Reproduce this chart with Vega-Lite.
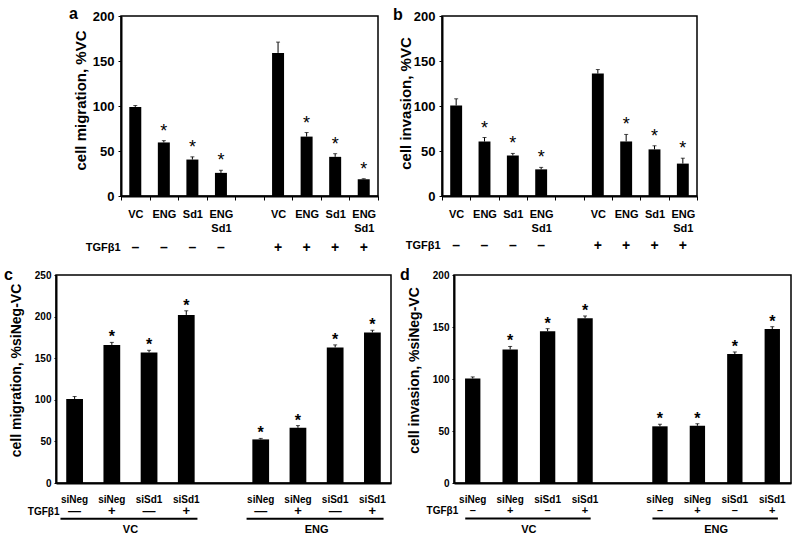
{
  "$schema": "https://vega.github.io/schema/vega-lite/v6.json",
  "padding": {"left": 3, "top": 4, "right": 10, "bottom": 80},
  "background": "white",
  "datasets": {
    "a": [
      {"id": "VC|-", "value": 99, "upper": 100.5, "star": "", "tgf": "–"},
      {"id": "ENG|-", "value": 59.5, "upper": 61.5, "star": "*", "tgf": "–"},
      {"id": "Sd1|-", "value": 40.5, "upper": 43.5, "star": "*", "tgf": "–"},
      {"id": "ENG Sd1|-", "value": 25.7, "upper": 28.6, "star": "*", "tgf": "–"},
      {"id": "VC|+", "value": 159, "upper": 171, "star": "", "tgf": "+"},
      {"id": "ENG|+", "value": 66, "upper": 70.5, "star": "*", "tgf": "+"},
      {"id": "Sd1|+", "value": 43.5, "upper": 47, "star": "*", "tgf": "+"},
      {"id": "ENG Sd1|+", "value": 18.6, "upper": 19.2, "star": "*", "tgf": "+"}
    ],
    "b": [
      {"id": "VC|-", "value": 100.5, "upper": 108, "star": "", "tgf": "–"},
      {"id": "ENG|-", "value": 60.5, "upper": 65, "star": "*", "tgf": "–"},
      {"id": "Sd1|-", "value": 45, "upper": 47.3, "star": "*", "tgf": "–"},
      {"id": "ENG Sd1|-", "value": 29.6, "upper": 31.8, "star": "*", "tgf": "–"},
      {"id": "VC|+", "value": 136, "upper": 140.5, "star": "", "tgf": "+"},
      {"id": "ENG|+", "value": 60.6, "upper": 68.4, "star": "*", "tgf": "+"},
      {"id": "Sd1|+", "value": 51.8, "upper": 55.8, "star": "*", "tgf": "+"},
      {"id": "ENG Sd1|+", "value": 36, "upper": 42, "star": "*", "tgf": "+"}
    ],
    "c": [
      {"id": "siNeg|-|VC", "value": 101, "upper": 104, "star": "", "tgf": "—", "grp": "", "ulEnd": "siSd1|+|VC"},
      {"id": "siNeg|+|VC", "value": 166, "upper": 169, "star": "*", "tgf": "+", "grp": "", "ulEnd": null},
      {"id": "siSd1|-|VC", "value": 157, "upper": 159.5, "star": "*", "tgf": "—", "grp": "VC", "ulEnd": null},
      {"id": "siSd1|+|VC", "value": 202, "upper": 207, "star": "*", "tgf": "+", "grp": "", "ulEnd": null},
      {"id": "siNeg|-|ENG", "value": 52.4, "upper": 53.6, "star": "*", "tgf": "—", "grp": "", "ulEnd": "siSd1|+|ENG"},
      {"id": "siNeg|+|ENG", "value": 66.4, "upper": 69, "star": "*", "tgf": "+", "grp": "", "ulEnd": null},
      {"id": "siSd1|-|ENG", "value": 163, "upper": 166, "star": "*", "tgf": "—", "grp": "ENG", "ulEnd": null},
      {"id": "siSd1|+|ENG", "value": 181, "upper": 183.6, "star": "*", "tgf": "+", "grp": "", "ulEnd": null}
    ],
    "d": [
      {"id": "siNeg|-|VC", "value": 100.5, "upper": 102, "star": "", "tgf": "–", "grp": "", "ulEnd": "siSd1|+|VC"},
      {"id": "siNeg|+|VC", "value": 128.4, "upper": 131.3, "star": "*", "tgf": "+", "grp": "", "ulEnd": null},
      {"id": "siSd1|-|VC", "value": 146, "upper": 148.4, "star": "*", "tgf": "–", "grp": "VC", "ulEnd": null},
      {"id": "siSd1|+|VC", "value": 158.5, "upper": 160.6, "star": "*", "tgf": "+", "grp": "", "ulEnd": null},
      {"id": "siNeg|-|ENG", "value": 54.5, "upper": 56.5, "star": "*", "tgf": "–", "grp": "", "ulEnd": "siSd1|+|ENG"},
      {"id": "siNeg|+|ENG", "value": 55, "upper": 57, "star": "*", "tgf": "+", "grp": "", "ulEnd": null},
      {"id": "siSd1|-|ENG", "value": 124, "upper": 126, "star": "*", "tgf": "–", "grp": "ENG", "ulEnd": null},
      {"id": "siSd1|+|ENG", "value": 148, "upper": 150.3, "star": "*", "tgf": "+", "grp": "", "ulEnd": null}
    ]
  },
  "spacing": 10,
  "vconcat": [
    {
      "bounds": "flush",
      "spacing": 64,
      "hconcat": [
        {"width": 1, "height": 1, "view": {"stroke": null}, "data": {"values": [{}]}, "mark": {"type": "text"}, "encoding": {}},
        {
          "width": 257, "height": 180,
          "title": {"text": "a", "anchor": "start", "frame": "group", "dx": -52, "dy": 24.5, "offset": 0, "fontSize": 16, "fontWeight": "bold", "baseline": "alphabetic"},
          "data": {"name": "a"},
          "encoding": {
            "x": {"field": "id", "type": "nominal", "sort": null,
              "scale": {"domain": ["VC|-", "ENG|-", "Sd1|-", "ENG Sd1|-", "|gap", "VC|+", "ENG|+", "Sd1|+", "ENG Sd1|+"], "paddingInner": 0, "paddingOuter": 0},
              "axis": {"title": "TGFβ1", "titleX": -1, "titleY": 51.7, "titleAlign": "right", "titleBaseline": "middle", "titleFontSize": 11, "titleFontWeight": "bold",
                "labelExpr": "isString(datum.value) ? split(split(datum.value, '|')[0], ' ') : ''", "labelAngle": 0, "labelFontSize": 11, "labelFontWeight": "bold", "labelLineHeight": 14.4, "labelPadding": 8, "labelBaseline": "top", "labelOverlap": false,
                "tickBand": "extent", "tickSize": 4, "domainWidth": 2}},
            "y": {"field": "value", "type": "quantitative",
              "scale": {"domain": [0, 200], "nice": false},
              "axis": {"title": "cell migration, %VC", "titleX": -41, "titleY": 84, "titleAngle": -90, "titleAlign": "center", "titleBaseline": "middle", "titleFontSize": 15, "titleFontWeight": "bold",
                "values": [0, 50, 100, 150, 200], "labelFontSize": 13, "labelFontWeight": "bold", "labelPadding": 4, "tickSize": 3, "domainWidth": 2, "grid": false}}
          },
          "layer": [
            {"mark": {"type": "bar", "color": "black", "width": {"band": 0.42}}},
            {"mark": {"type": "rule", "color": "black", "strokeWidth": 1}, "encoding": {"y2": {"field": "upper"}}},
            {"mark": {"type": "tick", "color": "black", "size": 4, "thickness": 1}, "encoding": {"y": {"field": "upper", "type": "quantitative"}}},
            {"mark": {"type": "text", "fontSize": 18, "dy": -9, "baseline": "middle"}, "encoding": {"y": {"field": "upper", "type": "quantitative"}, "text": {"field": "star"}}},
            {"mark": {"type": "text", "fontSize": 14, "fontWeight": "bold", "baseline": "middle"}, "encoding": {"y": {"datum": -57.5}, "text": {"field": "tgf"}}}
          ]
        },
        {
          "width": 255, "height": 180,
          "title": {"text": "b", "anchor": "start", "frame": "group", "dx": -49, "dy": 26, "offset": 0, "fontSize": 16, "fontWeight": "bold", "baseline": "alphabetic"},
          "data": {"name": "b"},
          "encoding": {
            "x": {"field": "id", "type": "nominal", "sort": null,
              "scale": {"domain": ["VC|-", "ENG|-", "Sd1|-", "ENG Sd1|-", "|gap", "VC|+", "ENG|+", "Sd1|+", "ENG Sd1|+"], "paddingInner": 0, "paddingOuter": 0},
              "axis": {"title": "TGFβ1", "titleX": -2, "titleY": 49, "titleAlign": "right", "titleBaseline": "middle", "titleFontSize": 11, "titleFontWeight": "bold",
                "labelExpr": "isString(datum.value) ? split(split(datum.value, '|')[0], ' ') : ''", "labelAngle": 0, "labelFontSize": 11, "labelFontWeight": "bold", "labelLineHeight": 14.4, "labelPadding": 8, "labelBaseline": "top", "labelOverlap": false,
                "tickBand": "extent", "tickSize": 4, "domainWidth": 2}},
            "y": {"field": "value", "type": "quantitative",
              "scale": {"domain": [0, 200], "nice": false},
              "axis": {"title": "cell invasion, %VC", "titleX": -37, "titleY": 87, "titleAngle": -90, "titleAlign": "center", "titleBaseline": "middle", "titleFontSize": 15, "titleFontWeight": "bold",
                "values": [0, 50, 100, 150, 200], "labelFontSize": 13, "labelFontWeight": "bold", "labelPadding": 4, "tickSize": 3, "domainWidth": 2, "grid": false}}
          },
          "layer": [
            {"mark": {"type": "bar", "color": "black", "width": {"band": 0.42}}},
            {"mark": {"type": "rule", "color": "black", "strokeWidth": 1}, "encoding": {"y2": {"field": "upper"}}},
            {"mark": {"type": "tick", "color": "black", "size": 4, "thickness": 1}, "encoding": {"y": {"field": "upper", "type": "quantitative"}}},
            {"mark": {"type": "text", "fontSize": 18, "dy": -9, "baseline": "middle"}, "encoding": {"y": {"field": "upper", "type": "quantitative"}, "text": {"field": "star"}}},
            {"mark": {"type": "text", "fontSize": 14, "fontWeight": "bold", "baseline": "middle"}, "encoding": {"y": {"datum": -55}, "text": {"field": "tgf"}}}
          ]
        }
      ]
    },
    {
      "bounds": "flush",
      "spacing": 63,
      "hconcat": [
        {
          "width": 335, "height": 208,
          "title": {"text": "c", "anchor": "start", "frame": "group", "dx": -52, "dy": 26, "offset": 0, "fontSize": 16, "fontWeight": "bold", "baseline": "alphabetic"},
          "data": {"name": "c"},
          "encoding": {
            "x": {"field": "id", "type": "nominal", "sort": null,
              "scale": {"domain": ["siNeg|-|VC", "siNeg|+|VC", "siSd1|-|VC", "siSd1|+|VC", "|gap", "siNeg|-|ENG", "siNeg|+|ENG", "siSd1|-|ENG", "siSd1|+|ENG"], "paddingInner": 0, "paddingOuter": 0},
              "axis": {"title": "TGFβ1", "titleX": 3, "titleY": 28.3, "titleAlign": "right", "titleBaseline": "middle", "titleFontSize": 10, "titleFontWeight": "bold",
                "labelExpr": "isString(datum.value) ? split(datum.value, '|')[0] : ''", "labelAngle": 0, "labelFontSize": 10, "labelFontWeight": "bold", "labelPadding": 11, "labelBaseline": "top", "labelOverlap": false,
                "ticks": false, "tickSize": 0, "domainWidth": 2}},
            "y": {"field": "value", "type": "quantitative",
              "scale": {"domain": [0, 250], "nice": false},
              "axis": {"title": "cell migration, %siNeg-VC", "titleX": -40, "titleY": 95, "titleAngle": -90, "titleAlign": "center", "titleBaseline": "middle", "titleFontSize": 14, "titleFontWeight": "bold",
                "values": [0, 50, 100, 150, 200, 250], "labelFontSize": 10, "labelFontWeight": "bold", "labelPadding": 3, "tickSize": 2, "domainWidth": 2, "grid": false}}
          },
          "layer": [
            {"mark": {"type": "bar", "color": "black", "width": {"band": 0.45}}},
            {"mark": {"type": "rule", "color": "black", "strokeWidth": 1}, "encoding": {"y2": {"field": "upper"}}},
            {"mark": {"type": "tick", "color": "black", "size": 4, "thickness": 1}, "encoding": {"y": {"field": "upper", "type": "quantitative"}}},
            {"mark": {"type": "text", "fontSize": 16, "fontWeight": "bold", "dy": -5, "baseline": "middle"}, "encoding": {"y": {"field": "upper", "type": "quantitative"}, "text": {"field": "star"}}},
            {"mark": {"type": "text", "fontSize": 13, "fontWeight": "bold", "baseline": "middle"}, "encoding": {"y": {"datum": -33.7}, "text": {"field": "tgf"}}},
            {"transform": [{"filter": "datum.ulEnd != null"}],
              "mark": {"type": "rule", "color": "black", "strokeWidth": 2},
              "encoding": {"x": {"field": "id", "type": "nominal", "bandPosition": 0.12}, "x2": {"field": "ulEnd", "bandPosition": 0.8}, "y": {"datum": -42.9}}},
            {"mark": {"type": "text", "fontSize": 11, "fontWeight": "bold", "baseline": "middle"},
              "encoding": {"x": {"field": "id", "type": "nominal", "bandPosition": 0}, "y": {"datum": -56.5}, "text": {"field": "grp"}}}
          ]
        },
        {
          "width": 337, "height": 208,
          "title": {"text": "d", "anchor": "start", "frame": "group", "dx": -54, "dy": 26, "offset": 0, "fontSize": 16, "fontWeight": "bold", "baseline": "alphabetic"},
          "data": {"name": "d"},
          "encoding": {
            "x": {"field": "id", "type": "nominal", "sort": null,
              "scale": {"domain": ["siNeg|-|VC", "siNeg|+|VC", "siSd1|-|VC", "siSd1|+|VC", "|gap", "siNeg|-|ENG", "siNeg|+|ENG", "siSd1|-|ENG", "siSd1|+|ENG"], "paddingInner": 0, "paddingOuter": 0},
              "axis": {"title": "TGFβ1", "titleX": 3.7, "titleY": 27.6, "titleAlign": "right", "titleBaseline": "middle", "titleFontSize": 10, "titleFontWeight": "bold",
                "labelExpr": "isString(datum.value) ? split(datum.value, '|')[0] : ''", "labelAngle": 0, "labelFontSize": 10, "labelFontWeight": "bold", "labelPadding": 11, "labelBaseline": "top", "labelOverlap": false,
                "ticks": false, "tickSize": 0, "domainWidth": 2}},
            "y": {"field": "value", "type": "quantitative",
              "scale": {"domain": [0, 200], "nice": false},
              "axis": {"title": "cell invasion, %siNeg-VC", "titleX": -40, "titleY": 95, "titleAngle": -90, "titleAlign": "center", "titleBaseline": "middle", "titleFontSize": 14, "titleFontWeight": "bold",
                "values": [0, 50, 100, 150, 200], "labelFontSize": 10, "labelFontWeight": "bold", "labelPadding": 3, "tickSize": 2, "domainWidth": 2, "grid": false}}
          },
          "layer": [
            {"mark": {"type": "bar", "color": "black", "width": {"band": 0.41}}},
            {"mark": {"type": "rule", "color": "black", "strokeWidth": 1}, "encoding": {"y2": {"field": "upper"}}},
            {"mark": {"type": "tick", "color": "black", "size": 4, "thickness": 1}, "encoding": {"y": {"field": "upper", "type": "quantitative"}}},
            {"mark": {"type": "text", "fontSize": 16, "fontWeight": "bold", "dy": -5, "baseline": "middle"}, "encoding": {"y": {"field": "upper", "type": "quantitative"}, "text": {"field": "star"}}},
            {"mark": {"type": "text", "fontSize": 11, "fontWeight": "bold", "baseline": "middle"}, "encoding": {"y": {"datum": -26.5}, "text": {"field": "tgf"}}},
            {"transform": [{"filter": "datum.ulEnd != null"}],
              "mark": {"type": "rule", "color": "black", "strokeWidth": 2},
              "encoding": {"x": {"field": "id", "type": "nominal", "bandPosition": 0.3}, "x2": {"field": "ulEnd", "bandPosition": 0.65}, "y": {"datum": -34.2}}},
            {"mark": {"type": "text", "fontSize": 11, "fontWeight": "bold", "baseline": "middle"},
              "encoding": {"x": {"field": "id", "type": "nominal", "bandPosition": 0}, "y": {"datum": -44.8}, "text": {"field": "grp"}}}
          ]
        }
      ]
    }
  ],
  "config": {
    "font": "Liberation Sans",
    "view": {"stroke": "black", "strokeWidth": 1.5},
    "axis": {"labelColor": "black", "titleColor": "black", "domainColor": "black", "tickColor": "black", "labelFont": "Liberation Sans", "titleFont": "Liberation Sans"},
    "text": {"font": "Liberation Sans", "color": "black"},
    "title": {"font": "Liberation Sans", "color": "black"}
  }
}
